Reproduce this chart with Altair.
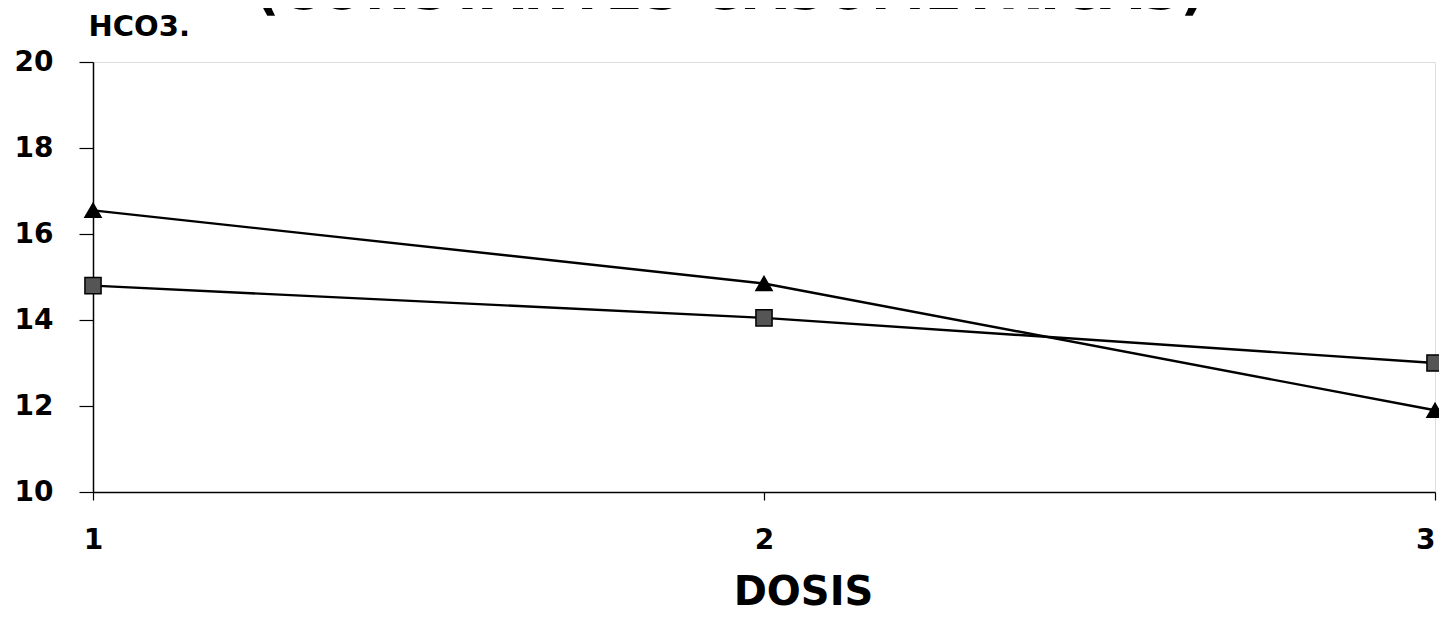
import altair as alt
import pandas as pd

# ---- data ----
dosis = [1, 2, 3]
serie_triangulo = [16.55, 14.85, 11.9]
serie_cuadrado = [14.8, 14.05, 13.0]
series_names = ["triangulo", "cuadrado"]
y_ticks = [10, 12, 14, 16, 18, 20]
x_ticks = [1, 2, 3]
titulo = "(CONSTANTES GASOMETRICAS)"
y_title = "HCO3."
x_title = "DOSIS"

rows = []
for d, v in zip(dosis, serie_triangulo):
    rows.append({"DOSIS": d, "HCO3": v, "serie": series_names[0]})
for d, v in zip(dosis, serie_cuadrado):
    rows.append({"DOSIS": d, "HCO3": v, "serie": series_names[1]})
df = pd.DataFrame(rows)

FONT = "DejaVu Sans"

x_enc = alt.X(
    "DOSIS:Q",
    scale=alt.Scale(domain=[min(x_ticks), max(x_ticks)], nice=False, zero=False),
    axis=alt.Axis(
        tickCount=len(x_ticks), tickMinStep=1, format="d", title=x_title, grid=False,
        labelOverlap=False, labelBound=False, labelFlush=False,
        domainColor="black", domainWidth=1.5, tickColor="black", tickWidth=1.2,
        tickSize=8, labelPadding=26, labelFontSize=28, labelFont=FONT,
        labelFontWeight="bold", labelColor="black", labelBaseline="top",
        labelAlign={"expr": "datum.value == 3 ? 'right' : 'center'"},
        titleFont=FONT, titleFontSize=40, titleFontWeight="bold", titleColor="black",
        titleX=710, titleY=112, titleAlign="center", titleBaseline="alphabetic",
    ),
)
y_enc = alt.Y(
    "HCO3:Q",
    scale=alt.Scale(domain=[10, 20], nice=False, zero=False),
    axis=alt.Axis(
        values=y_ticks, title=y_title, grid=False, labelOverlap=False,
        domainColor="black", domainWidth=1.5, tickColor="black", tickWidth=1.2,
        tickSize=14, labelPadding=26, labelFontSize=28, labelFont=FONT,
        labelFontWeight="bold", labelColor="black",
        titleFont=FONT, titleFontSize=29, titleFontWeight="bold", titleColor="black",
        titleAngle=0, titleX=-5, titleY=-27, titleAlign="left", titleBaseline="alphabetic",
    ),
)

base = alt.Chart(df)

lines = base.mark_line(color="black", strokeWidth=2.4).encode(
    x=x_enc, y=y_enc, detail="serie:N"
)
points = base.mark_point(filled=True, size=260, stroke="black", strokeWidth=1.5, opacity=1).encode(
    x=x_enc,
    y=y_enc,
    shape=alt.Shape("serie:N", scale=alt.Scale(domain=series_names, range=["triangle-up", "square"]), legend=None),
    fill=alt.Fill("serie:N", scale=alt.Scale(domain=series_names, range=["black", "#555555"]), legend=None),
)

title_df = pd.DataFrame({"t": [titulo]})
title_mark = alt.Chart(title_df).mark_text(
    font=FONT, fontSize=54, fontWeight="bold", color="black",
    align="center", baseline="alphabetic",
).encode(text="t:N", x=alt.value(637), y=alt.value(-53))

chart = alt.layer(lines, points, title_mark).properties(
    width=1342, height=430,
    autosize=alt.AutoSizeParams(type="none"),
    padding={"left": 85, "top": 54, "right": 4, "bottom": 117},
).configure_view(stroke=None).configure(background="white")

chart.save("out.html", embed_options={"renderer": "svg", "actions": False})
